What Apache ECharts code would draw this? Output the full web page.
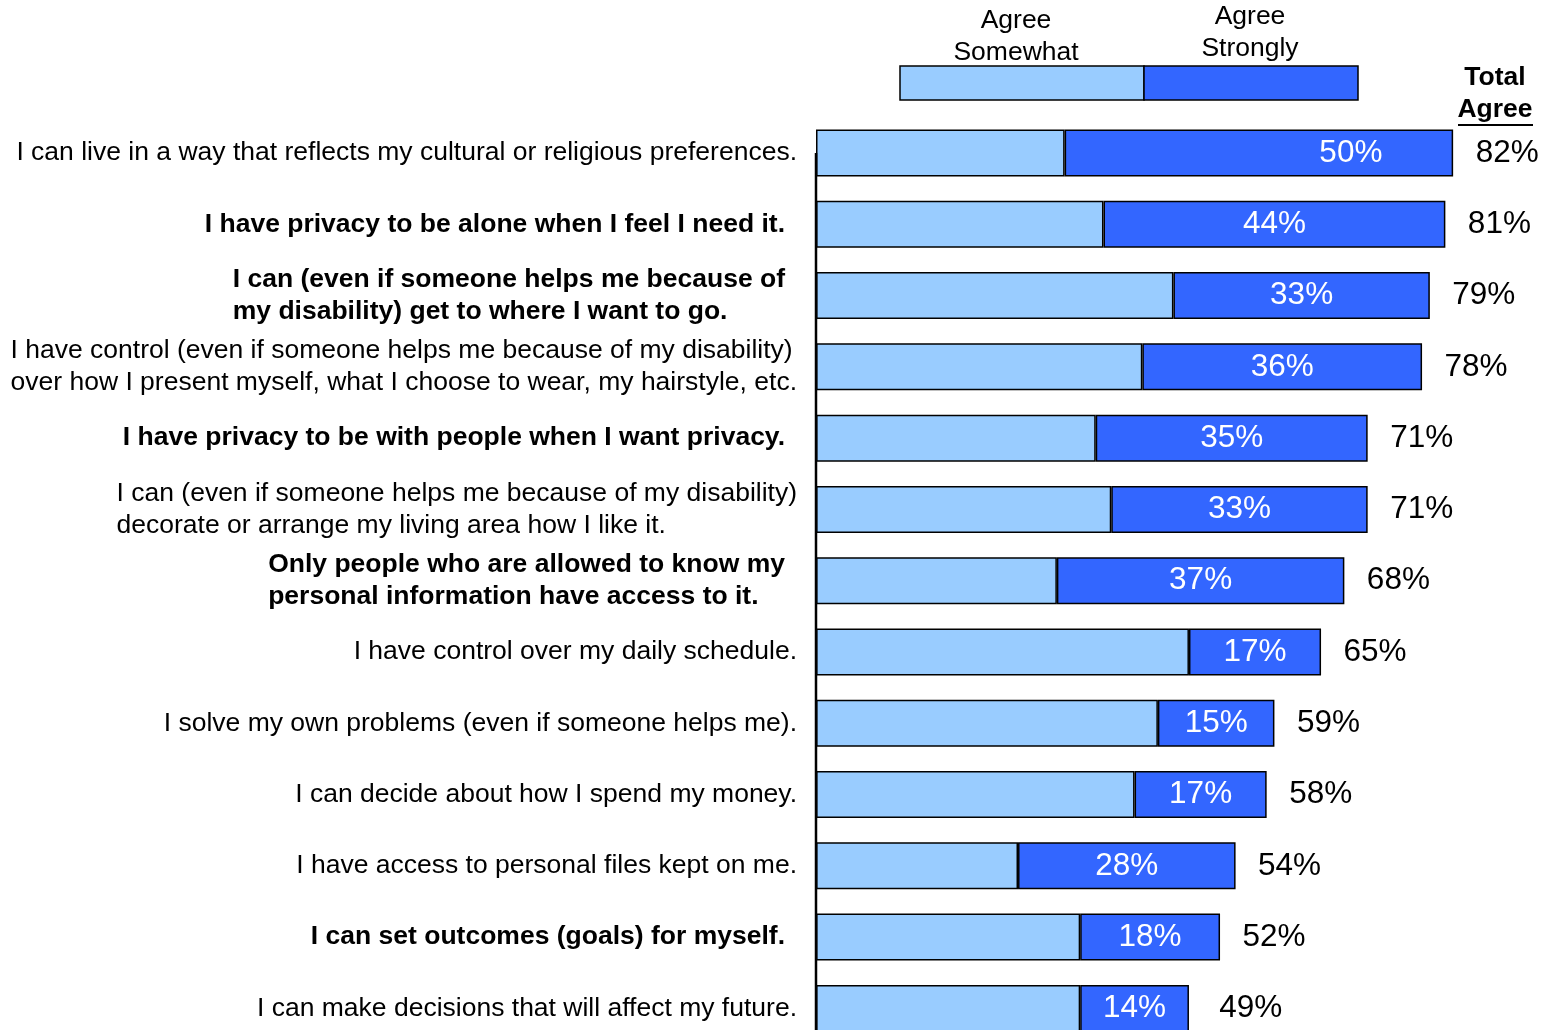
<!DOCTYPE html>
<html><head><meta charset="utf-8">
<script src="https://cdn.jsdelivr.net/npm/echarts@6/dist/echarts.min.js"></script>
<style>html,body{margin:0;padding:0;background:#fff}#c{width:1543px;height:1030px}</style>
</head><body><div id="c"></div>
<script>
// ---- data ----
const categories = [
  "I can live in a way that reflects my cultural or religious preferences.",
  "I have privacy to be alone when I feel I need it.",
  "I can (even if someone helps me because of\nmy disability) get to where I want to go.",
  "I have control (even if someone helps me because of my disability)\nover how I present myself, what I choose to wear, my hairstyle, etc.",
  "I have privacy to be with people when I want privacy.",
  "I can (even if someone helps me because of my disability)\ndecorate or arrange my living area how I like it.",
  "Only people who are allowed to know my\npersonal information have access to it.",
  "I have control over my daily schedule.",
  "I solve my own problems (even if someone helps me).",
  "I can decide about how I spend my money.",
  "I have access to personal files kept on me.",
  "I can set outcomes (goals) for myself.",
  "I can make decisions that will affect my future."
];
const agreeSomewhat = [32, 37, 46, 42, 36, 38, 31, 48, 44, 41, 26, 34, 34];
const agreeStrongly = [50, 44, 33, 36, 35, 33, 37, 17, 15, 17, 28, 18, 14];
const totalAgree    = [82, 81, 79, 78, 71, 71, 68, 65, 59, 58, 54, 52, 49];
const seriesNames = ["Agree\nSomewhat", "Agree\nStrongly"];
const totalHeader = ["Total", "Agree"];

// ---- style ----
const boldRows = [1, 2, 4, 6, 11];
const FONT = "'Liberation Sans', Arial, Helvetica, sans-serif";
const LIGHT = '#99CCFF', DARK = '#3366FF';
const FS = 26.5;

const chart = echarts.init(document.getElementById('c'), null, {renderer: 'canvas'});

const strongData = agreeStrongly.map((v, i) => i === 0 ? {value: v, label: {offset: [92, 0]}} : v);

const legendGraphics = [
  {type: 'rect', shape: {x: 900, y: 66, width: 244, height: 34}, style: {fill: LIGHT, stroke: '#000', lineWidth: 1.5}},
  {type: 'rect', shape: {x: 1144, y: 66, width: 214, height: 34}, style: {fill: DARK, stroke: '#000', lineWidth: 1.5}},
  {type: 'text', x: 1016, y: 37, style: {text: seriesNames[0], fill: '#000', font: FS + 'px ' + FONT, textAlign: 'center', textVerticalAlign: 'middle', lineHeight: 32}},
  {type: 'text', x: 1250, y: 33, style: {text: seriesNames[1], fill: '#000', font: FS + 'px ' + FONT, textAlign: 'center', textVerticalAlign: 'middle', lineHeight: 32}},
  {type: 'text', x: 1495, y: 78, style: {text: totalHeader[0], fill: '#000', font: 'bold ' + FS + 'px ' + FONT, textAlign: 'center', textVerticalAlign: 'middle'}},
  {type: 'text', x: 1495, y: 110, style: {text: totalHeader[1], fill: '#000', font: 'bold ' + FS + 'px ' + FONT, textAlign: 'center', textVerticalAlign: 'middle'}},
  {type: 'line', shape: {x1: 1458, y1: 125, x2: 1533, y2: 125}, style: {stroke: '#000', lineWidth: 2}}
];

const option = {
  backgroundColor: '#fff',
  animation: false,
  grid: {left: 816, right: 27.7, top: 117.35, height: 926.7, containLabel: false, outerBoundsMode: 'none'},
  xAxis: {type: 'value', min: 0, max: 90, show: false},
  yAxis: {
    type: 'category', data: categories, inverse: true,
    axisLine: {show: false},
    axisTick: {show: false},
    splitLine: {show: false},
    axisLabel: {
      margin: 19,
      formatter: (val, idx) => {
        const st = boldRows.indexOf(idx) >= 0 ? 'b' : 'r';
        return val.split('\n').map(l => '{' + st + '|' + l + '}').join('\n');
      },
      rich: {
        r: {fontFamily: FONT, fontSize: FS, color: '#000', align: 'left', lineHeight: 32},
        b: {fontFamily: FONT, fontSize: FS, fontWeight: 'bold', color: '#000', align: 'left', lineHeight: 32, padding: [0, 12, 0, 0]}
      }
    }
  },
  series: [
    {
      name: 'Agree Somewhat', type: 'bar', stack: 'agree', barWidth: 47,
      data: agreeSomewhat,
      itemStyle: {color: LIGHT, borderColor: '#000', borderWidth: 1.5}
    },
    {
      name: 'Agree Strongly', type: 'bar', stack: 'agree', barWidth: 47,
      data: strongData,
      itemStyle: {color: DARK, borderColor: '#000', borderWidth: 1.5},
      label: {show: true, position: 'inside', color: '#fff', fontFamily: FONT, fontSize: 31.5, formatter: '{c}%'}
    },
    {
      name: 'Total Agree', type: 'scatter', symbolSize: 1,
      data: totalAgree.map((v, i) => [v, i]),
      itemStyle: {color: 'rgba(255,255,255,0)'},
      label: {show: true, position: 'right', distance: 22, color: '#000', opacity: 1, textBorderWidth: 0,
        fontFamily: FONT, fontSize: 31.5, formatter: p => p.value[0] + '%'},
      emphasis: {disabled: true}
    }
  ],
  graphic: legendGraphics
};
chart.setOption(option);

// vertical axis line: from the middle of the first category band to the bottom
const p0 = chart.convertToPixel({gridIndex: 0}, [0, 0]);
const pEnd = chart.convertToPixel({gridIndex: 0}, [0, categories.length - 1]);
chart.setOption({graphic: legendGraphics.concat([
  {type: 'line', z: 10, shape: {x1: p0[0], y1: p0[1], x2: p0[0], y2: pEnd[1] + 40}, style: {stroke: '#000', lineWidth: 2.5}}
])});
</script>
</body></html>
